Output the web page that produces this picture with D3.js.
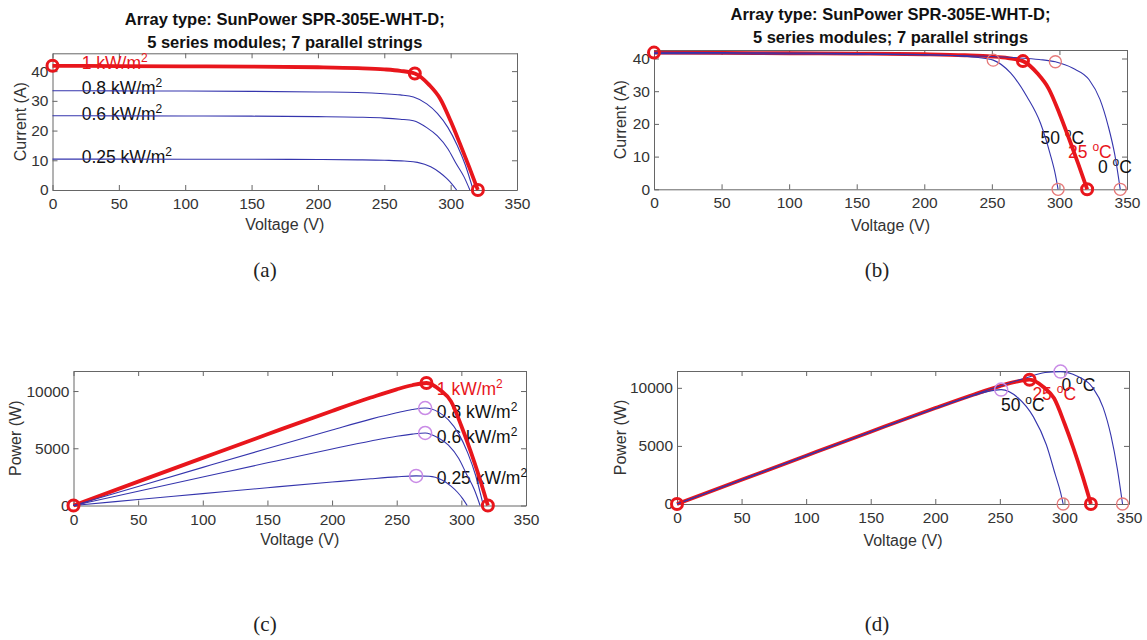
<!DOCTYPE html>
<html>
<head>
<meta charset="utf-8">
<script src="https://cdn.jsdelivr.net/npm/d3@7"></script>
<style>
body{margin:0;background:#fff;}
svg text{font-family:"Liberation Sans",Arial,sans-serif;}
</style>
</head>
<body>
<svg id="fig" width="1147" height="640"></svg>
<script>
// ticks
var voltTicks = [0, 50, 100, 150, 200, 250, 300, 350];
var currTicks = [0, 10, 20, 30, 40];
var powTicks = [0, 5000, 10000];

// curves: voltage (V), current (A), power (W)
// 1 kW/m2, 25 °C (thick red one, same in all four plots)
var v1000 = [0, 50, 100, 150, 200, 230, 250, 262, 273, 284, 292, 300, 307, 314, 320.5];
var i1000 = [41.8, 41.7, 41.6, 41.5, 41.3, 41.0, 40.6, 40.1, 39.2, 35.3, 30.8, 23.2, 15.6, 7.7, 0];
var p1000 = [0, 2085, 4160, 6225, 8260, 9430, 10150, 10506, 10700, 10050, 9100, 6950, 4800, 2420, 0];
// 0.8 kW/m2
var v800 = [0, 50, 100, 150, 200, 230, 250, 262, 272, 282, 290, 298, 305, 311, 317];
var i800 = [33.4, 33.35, 33.3, 33.2, 33.0, 32.8, 32.4, 32.0, 31.3, 29.0, 25.8, 21.0, 15.0, 8.5, 0];
var p800 = [0, 1668, 3330, 4980, 6600, 7544, 8100, 8384, 8514, 8178, 7482, 6258, 4575, 2644, 0];
// 0.6 kW/m2
var v600 = [0, 50, 100, 150, 200, 230, 250, 262, 272, 282, 290, 298, 304, 310, 314.5];
var i600 = [25.0, 24.95, 24.9, 24.85, 24.7, 24.5, 24.2, 23.8, 23.3, 21.0, 18.2, 13.8, 9.0, 4.5, 0];
var p600 = [0, 1248, 2490, 3728, 4940, 5635, 6050, 6236, 6338, 5922, 5278, 4112, 2736, 1395, 0];
// 0.25 kW/m2
var v250 = [0, 50, 100, 150, 200, 230, 250, 265, 275, 285, 292, 297, 301, 304.5];
var i250 = [10.4, 10.38, 10.36, 10.33, 10.25, 10.15, 10.0, 9.75, 9.3, 7.8, 5.8, 3.9, 2.0, 0];
var p250 = [0, 519, 1036, 1550, 2050, 2335, 2500, 2584, 2558, 2223, 1694, 1158, 602, 0];
// 50 °C
var v50C = [0, 50, 100, 150, 200, 225, 240, 251, 264, 276, 286, 293, 297, 299];
var i50C = [41.9, 41.8, 41.7, 41.5, 41.2, 40.8, 40.3, 39.5, 35.5, 28.3, 20.2, 11.0, 4.5, 0];
var p50C = [0, 2090, 4170, 6225, 8240, 9180, 9672, 9850, 9150, 7500, 5100, 2500, 1000, 0];
// 0 °C
var v0C = [0, 50, 100, 150, 200, 250, 270, 285, 297, 310, 322, 330, 336, 341, 345];
var i0C = [41.5, 41.45, 41.4, 41.3, 41.1, 40.6, 40.2, 39.7, 39.0, 37.0, 33.5, 27.5, 19.5, 10.5, 0];
var p0C = [0, 2073, 4140, 6195, 8220, 10150, 10854, 11315, 11400, 11000, 10000, 8300, 5900, 3000, 0];

// index of the maximum power point in each curve
var mpp1000 = 8, mpp800 = 8, mpp600 = 8, mpp250 = 7, mpp50C = 7, mpp0C = 8;

var irrNames = ["1", "0.8", "0.6", "0.25"];
var tempNames = ["25", "50", "0"];
var titleLines = ["Array type: SunPower SPR-305E-WHT-D;", "5 series modules; 7 parallel strings"];
var captions = ["(a)", "(b)", "(c)", "(d)"];

var RED = "#e8161c", BLUE = "#3535ad", SALMON = "#e67a7a", VIOLET = "#c98be6";

var svg = d3.select("#fig");

function makeAxes(p) {
  var g = svg.append("g");
  var x = d3.scaleLinear().domain([0, 350]).range([p.left, p.right]);
  var y = d3.scaleLinear().domain([0, p.yMax]).range([p.bottom, p.top]);
  var ax = [
    [d3.axisBottom(x).tickValues(voltTicks).tickPadding(8), 0, p.bottom],
    [d3.axisTop(x).tickValues(voltTicks).tickFormat(""), 0, p.top],
    [d3.axisLeft(y).tickValues(p.yTicks).tickFormat(d3.format("d")).tickPadding(4), p.left, 0],
    [d3.axisRight(y).tickValues(p.yTicks).tickFormat(""), p.right, 0]
  ];
  ax.forEach(function(a) {
    var ag = g.append("g")
      .attr("transform", "translate(" + a[1] + "," + a[2] + ")")
      .call(a[0].tickSize(-5).tickSizeOuter(0));
    ag.selectAll("path,line").attr("stroke", "#666");
    ag.selectAll("text").attr("fill", "#333").style("font-size", "15.5px")
      .style("font-family", "'Liberation Sans',Arial,sans-serif");
  });
  var cx = (p.left + p.right) / 2;
  g.append("text").attr("x", cx).attr("y", p.xLabelY).attr("text-anchor", "middle")
    .attr("fill", "#333").style("font-size", "16px").text("Voltage (V)");
  g.append("text").attr("transform", "translate(" + p.yLabelX + "," + ((p.top + p.bottom) / 2) + ") rotate(-90)")
    .attr("text-anchor", "middle").attr("fill", "#333").style("font-size", "16px").text(p.yLabel);
  if (p.title) {
    titleLines.forEach(function(t, k) {
      g.append("text").attr("x", cx).attr("y", p.titleY + k * 22.5).attr("text-anchor", "middle")
        .attr("fill", "#111").style("font-size", "16.5px").style("font-weight", "bold").text(t);
    });
  }
  svg.append("text").attr("x", p.capX).attr("y", p.capY).attr("text-anchor", "middle")
    .attr("fill", "#222").style("font-family", "'Liberation Serif','DejaVu Serif',serif")
    .style("font-size", "21px").text(p.caption);
  return {g: g, x: x, y: y};
}

function curve(a, vs, ys, color, w) {
  var pts = vs.map(function(v, k) { return [v, ys[k]]; });
  a.g.append("path").datum(pts)
    .attr("fill", "none").attr("stroke", color).attr("stroke-width", w)
    .attr("stroke-linejoin", "round")
    .attr("d", d3.line().x(function(d) { return a.x(d[0]); }).y(function(d) { return a.y(d[1]); })
      .curve(d3.curveMonotoneX));
}

function ring(a, v, val, color, w, r) {
  a.g.append("circle").attr("cx", a.x(v)).attr("cy", a.y(val)).attr("r", r)
    .attr("fill", "none").attr("stroke", color).attr("stroke-width", w);
}

function bigRings(a, vs, ys, m) {
  [0, m, vs.length - 1].forEach(function(k) { ring(a, vs[k], ys[k], RED, 3, 5.5); });
}

function label(a, v, val, main, sup, tail, color) {
  var t = a.g.append("text").attr("x", a.x(v)).attr("y", a.y(val)).attr("fill", color)
    .style("font-size", "17.5px");
  t.append("tspan").text(main);
  t.append("tspan").attr("dy", -7).style("font-size", "12px").text(sup);
  if (tail) t.append("tspan").attr("dy", 7).text(tail);
}

// (a) current vs voltage, irradiance
var A = makeAxes({left: 52.5, right: 517, top: 53.3, bottom: 190, yMax: 46, yTicks: currTicks,
  yLabel: "Current (A)", xLabelY: 230, yLabelX: 26, title: true, titleY: 25, caption: captions[0], capX: 265, capY: 277});
label(A, 22, 40.6, irrNames[0] + " kW/m", "2", null, RED);
label(A, 22, 32.2, irrNames[1] + " kW/m", "2", null, "#111");
label(A, 22, 23.6, irrNames[2] + " kW/m", "2", null, "#111");
label(A, 22, 9.1, irrNames[3] + " kW/m", "2", null, "#111");
curve(A, v1000, i1000, RED, 3.8);
curve(A, v800, i800, BLUE, 1.1);
curve(A, v600, i600, BLUE, 1.1);
curve(A, v250, i250, BLUE, 1.1);
bigRings(A, v1000, i1000, mpp1000);

// (b) current vs voltage, temperature
var B = makeAxes({left: 654, right: 1127, top: 50, bottom: 189.3, yMax: 42.6, yTicks: currTicks,
  yLabel: "Current (A)", xLabelY: 231, yLabelX: 626, title: true, titleY: 20, caption: captions[1], capX: 877, capY: 277});
label(B, 286, 13.9, tempNames[1] + " ", "o", "C", "#111");
label(B, 306.4, 9.5, tempNames[0] + " ", "o", "C", RED);
label(B, 328.5, 5.0, tempNames[2] + " ", "o", "C", "#111");
curve(B, v1000, i1000, RED, 3.8);
curve(B, v50C, i50C, BLUE, 1.1);
curve(B, v0C, i0C, BLUE, 1.1);
[[v50C, i50C, mpp50C], [v0C, i0C, mpp0C]].forEach(function(c) {
  ring(B, c[0][c[2]], c[1][c[2]], SALMON, 1.3, 6);
  ring(B, c[0][c[0].length - 1], 0, SALMON, 1.3, 6);
});
bigRings(B, v1000, i1000, mpp1000);

// (c) power vs voltage, irradiance
var C = makeAxes({left: 73.5, right: 526, top: 371, bottom: 505.5, yMax: 11750, yTicks: powTicks,
  yLabel: "Power (W)", xLabelY: 545, yLabelX: 21, title: false, caption: captions[2], capX: 265, capY: 631});
label(C, 281, 9697, irrNames[0] + " kW/m", "2", null, RED);
label(C, 281, 7644, irrNames[1] + " kW/m", "2", null, "#111");
label(C, 281, 5460, irrNames[2] + " kW/m", "2", null, "#111");
label(C, 281, 1835, irrNames[3] + " kW/m", "2", null, "#111");
curve(C, v1000, p1000, RED, 3.8);
curve(C, v800, p800, BLUE, 1.1);
curve(C, v600, p600, BLUE, 1.1);
curve(C, v250, p250, BLUE, 1.1);
[[v800, p800, mpp800], [v600, p600, mpp600], [v250, p250, mpp250]].forEach(function(c) {
  ring(C, c[0][c[2]], c[1][c[2]], VIOLET, 1.5, 6.5);
});
bigRings(C, v1000, p1000, mpp1000);

// (d) power vs voltage, temperature
var D = makeAxes({left: 677, right: 1129, top: 371, bottom: 504, yMax: 11450, yTicks: powTicks,
  yLabel: "Power (W)", xLabelY: 546, yLabelX: 626, title: false, caption: captions[3], capX: 877, capY: 631});
label(D, 297.7, 9728, tempNames[2] + " ", "o", "C", "#111");
label(D, 275.2, 8996, tempNames[0] + " ", "o", "C", RED);
label(D, 250.9, 8006, tempNames[1] + " ", "o", "C", "#111");
curve(D, v1000, p1000, RED, 3.8);
curve(D, v50C, p50C, BLUE, 1.1);
curve(D, v0C, p0C, BLUE, 1.1);
[[v50C, p50C, mpp50C], [v0C, p0C, mpp0C]].forEach(function(c) {
  ring(D, c[0][c[2]], c[1][c[2]], VIOLET, 1.5, 6.5);
  ring(D, c[0][c[0].length - 1], 0, SALMON, 1.3, 6);
});
bigRings(D, v1000, p1000, mpp1000);
</script>
</body>
</html>
